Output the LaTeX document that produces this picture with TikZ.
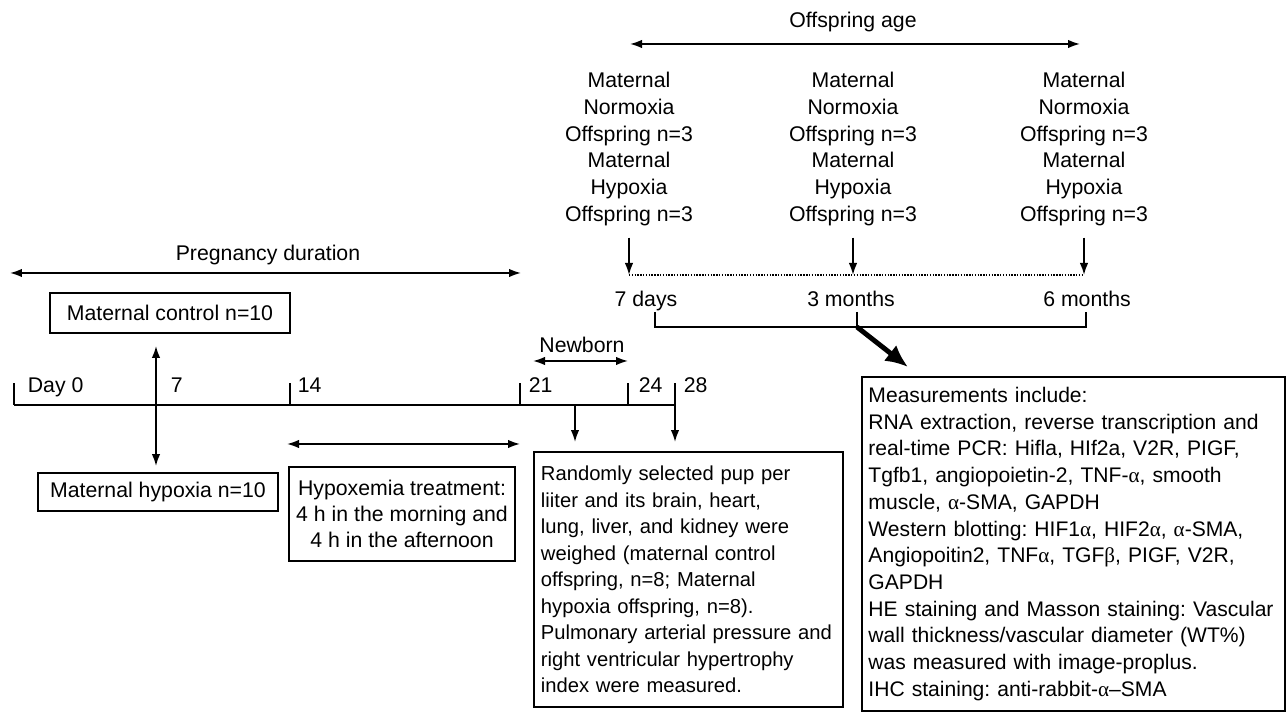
\documentclass[tikz,border=0pt]{standalone}
\usepackage{fontspec}
\setmainfont{Liberation Sans}
\newfontfamily\grkfont{Liberation Serif}
\usetikzlibrary{arrows.meta,positioning}
\tikzset{>={Latex[length=2.4mm,width=1.7mm]}}
\newcommand{\alp}{{\grkfont α}}
\newcommand{\bet}{{\grkfont β}}
\frenchspacing
\tikzset{
  txt/.style={inner sep=0pt,font=\fontsize{12.1}{15.2}\selectfont,align=center},
  box/.style={draw,line width=1.1pt,inner sep=0pt,font=\fontsize{12.1}{15}\selectfont,align=center},
  lbox/.style={draw,line width=1.1pt,anchor=north west,align=left,inner ysep=0pt},
  dotline/.style={line width=1.2pt,dash pattern=on 0.8pt off 0.8pt}
}

\begin{document}
\begin{tikzpicture}[x=0.02cm,y=-0.02cm,line width=1pt]
\useasboundingbox (0,0) rectangle (1288,712);

% offspring age
\node[txt] (offage) at (853,22) {Offspring age};
\coordinate (oaL) at (630,44);
\coordinate (oaR) at (1080,44);
\draw[<->] (oaL) -- (oaR);

\node[txt] (col7d) at (629,149) {Maternal\\Normoxia\\Offspring n=3\\Maternal\\Hypoxia\\Offspring n=3};
\node[txt] (col3m) at (853,149) {Maternal\\Normoxia\\Offspring n=3\\Maternal\\Hypoxia\\Offspring n=3};
\node[txt] (col6m) at (1084,149) {Maternal\\Normoxia\\Offspring n=3\\Maternal\\Hypoxia\\Offspring n=3};

\coordinate (t7d) at (629,275);
\coordinate (t3m) at (853,275);
\coordinate (t6m) at (1084,275);
\draw[dotline] (t7d) -- (t6m);
\foreach \c/\t in {col7d/t7d,col3m/t3m,col6m/t6m}
  \draw[->] ([yshift=-0.22cm]\c.south) -- (\t);

\node[txt,anchor=base] (age7d) at (646,307) {7 days};
\node[txt,anchor=base] (age3m) at (851,307) {3 months};
\node[txt,anchor=base] (age6m) at (1087,307) {6 months};

% bracket and thick arrow
\coordinate (b7d) at (655,312);
\coordinate (b3m) at (857,312);
\coordinate (b6m) at (1086,312);
\coordinate (bmid) at (857,327);
\coordinate (mtip) at (908,367);
\draw (b7d) -- ++(0,15) -| (b6m);
\draw (b3m) -- (bmid);
\draw[line width=2.8pt,-{Latex[length=4.5mm,width=4mm]}] (bmid) -- (mtip);

% pregnancy
\node[txt] (preg) at (268,255) {Pregnancy duration};
\coordinate (pgL) at (10,273);
\coordinate (pgR) at (521,273);
\draw[<->] (pgL) -- (pgR);

\node[box,minimum width=4.8cm,minimum height=0.8cm] (mc) at (170,313) {Maternal control n=10};
\node[box,minimum width=4.8cm,minimum height=0.76cm] (mh) at (158,492) {Maternal hypoxia n=10};

% timeline
\coordinate (d0) at (14,405);
\coordinate (d7) at (156,405);
\coordinate (d14) at (290,405);
\coordinate (d21) at (520,405);
\coordinate (d24) at (628,405);
\coordinate (d28) at (675,405);
\coordinate (dnb) at (575,405);
\draw[line width=1.1pt] (d0) -- (d28);
\foreach \p in {d0,d14,d21,d24,d28}
  \draw (\p) -- ++(0,-22);
\node[txt,anchor=base west] (lab0) at (27,393) {Day 0};
\node[txt,anchor=base west] (lab7) at (170,393) {7};
\node[txt,anchor=base west] (lab14) at (297,393) {14};
\node[txt,anchor=base west] (lab21) at (528,393) {21};
\node[txt,anchor=base west] (lab24) at (638,393) {24};
\node[txt,anchor=base west] (lab28) at (683,393) {28};

\draw[<->] ([yshift=-0.24cm]mc.south -| d7) -- ([yshift=0.12cm]mh.north -| d7);

% newborn
\node[txt] (newborn) at (582,345) {Newborn};
\coordinate (nbL) at (533,361);
\coordinate (nbR) at (628,361);
\draw[<->] (nbL) -- (nbR);

% hypoxemia
\coordinate (hxL) at (287,444);
\coordinate (hxR) at (520,444);
\draw[<->] (hxL) -- (hxR);
\node[box,minimum width=4.52cm,minimum height=1.88cm] (hx) at (402,514)
  {Hypoxemia treatment:\\4 h in the morning and\\4 h in the afternoon};

% newborn box
\node[lbox,inner xsep=0.14cm,text width=5.9cm,minimum width=6.18cm,minimum height=5.1cm,
  font=\fontsize{11.5}{15.1}\selectfont] (rnd) at (533,451)
  {Randomly selected pup per\\liiter and its brain, heart,\\lung, liver, and kidney were\\weighed (maternal control\\offspring, n=8; Maternal\\hypoxia offspring, n=8).\\Pulmonary arterial pressure and\\right ventricular hypertrophy\\index were measured.};
\draw[->,shorten >=0.18cm] (dnb) -- (dnb |- rnd.north);
\draw[->,shorten >=0.18cm] (d28) -- (d28 |- rnd.north);

% measurements box
\node[lbox,inner xsep=0.13cm,text width=8.2cm,minimum width=8.46cm,minimum height=6.68cm,
  font=\fontsize{12}{15.2}\selectfont] (meas) at (861,376)
  {Measurements include:\\
   RNA extraction, reverse transcription and\\
   real-time PCR: Hifla, HIf2a, V2R, PIGF,\\
   Tgfb1, angiopoietin-2, TNF-\alp, smooth\\
   muscle, \alp-SMA, GAPDH\\
   Western blotting: HIF1\alp, HIF2\alp, \alp-SMA,\\
   Angiopoitin2, TNF\alp, TGF\bet, PIGF, V2R,\\
   GAPDH\\
   HE staining and Masson staining: Vascular\\
   wall thickness/vascular diameter (WT\%)\\
   was measured with image-proplus.\\
   IHC staining: anti-rabbit-\alp--SMA};
\end{tikzpicture}
\end{document}
